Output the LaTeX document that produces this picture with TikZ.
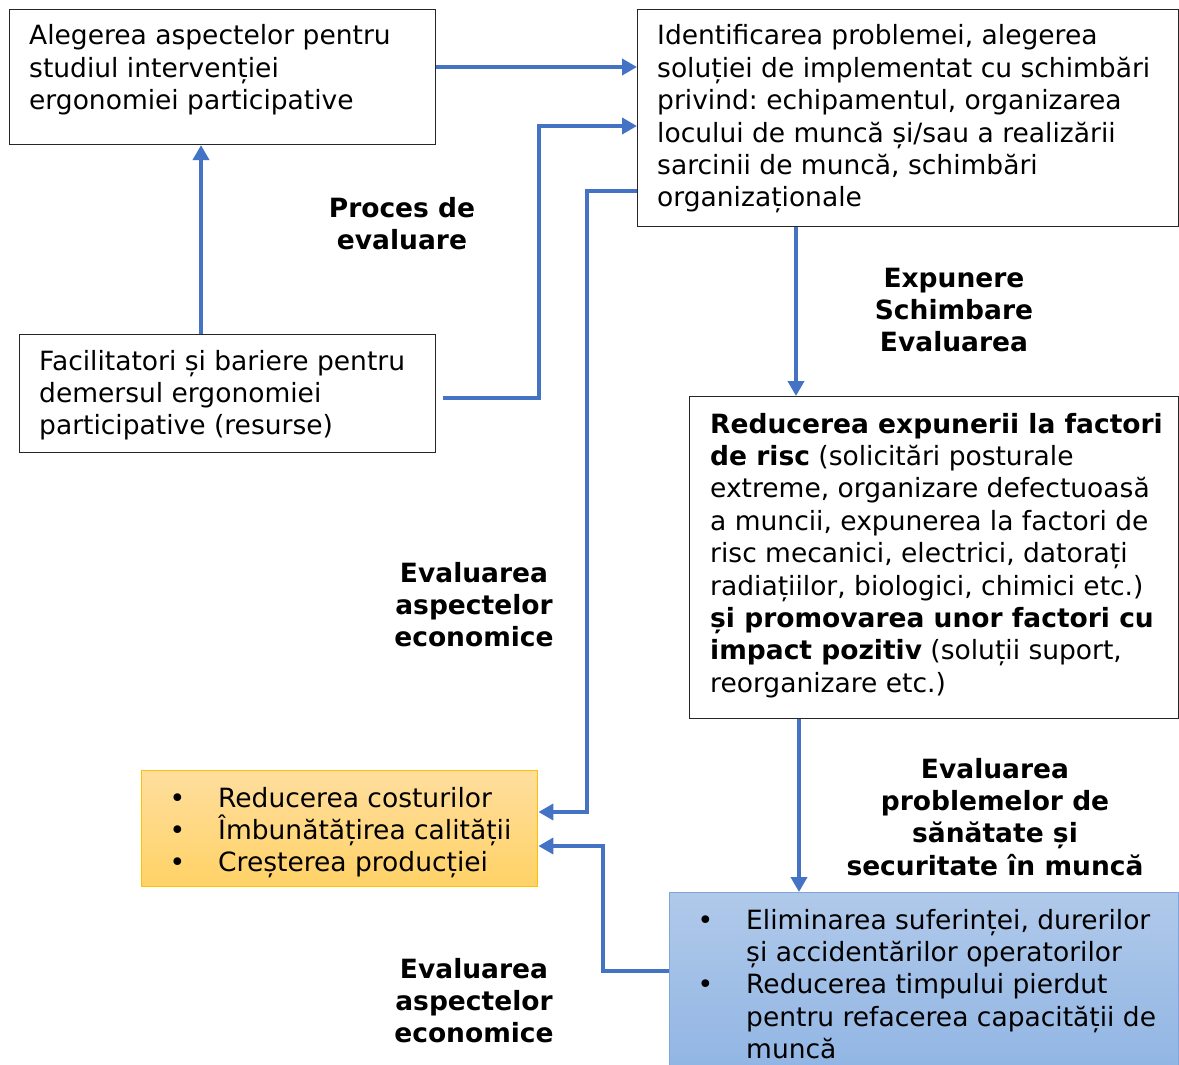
\documentclass[tikz,border=0pt]{standalone}
\usepackage{fontspec}
\setmainfont{DejaVu Sans}
\frenchspacing
\usetikzlibrary{arrows.meta}
\definecolor{linkblue}{HTML}{4472C4}
\definecolor{orangetop}{HTML}{FFDE9E}
\definecolor{orangebot}{HTML}{FFD266}
\definecolor{orangeedge}{HTML}{FFC000}
\definecolor{bluetop}{HTML}{B0C9EA}
\definecolor{bluebot}{HTML}{8FB4E3}
\definecolor{blueedge}{HTML}{7FA5DA}
% bullet hung to the left of the item text
\newcommand\itm{\makebox[0pt][r]{\textbullet\hspace{33pt}}}
\begin{document}
\begin{tikzpicture}[x=1pt,y=-1pt,
  box/.style={draw=black!85, line width=1.1pt, rectangle, inner sep=0pt, anchor=north west},
  txt/.style={inner sep=0pt, anchor=base west, font=\fontsize{26.5}{32.4}\selectfont},
  lbl/.style={inner sep=0pt, anchor=base, font=\fontsize{26.5}{32.4}\selectfont\bfseries},
  arr/.style={draw=linkblue, line width=3.8pt, -{Triangle[length=15pt,width=16pt]}},
]
\useasboundingbox (0,0) rectangle (1179,1065);
\fill[white] (0,0) rectangle (1179,1065);
\clip (0,0) rectangle (1179,1065);

% boxes
\node[box, minimum width=426pt, minimum height=135pt] (A) at (9,9) {};
\node[box, minimum width=541pt, minimum height=217pt] (B) at (637,9) {};
\node[box, minimum width=416pt, minimum height=118pt] (C) at (19,334) {};
\node[box, minimum width=489pt, minimum height=322pt] (D) at (689,396) {};
\node[box, draw=orangeedge, line width=1.4pt, top color=orangetop, bottom color=orangebot,
      minimum width=396pt, minimum height=116pt] (E) at (141,770) {};
\node[box, draw=blueedge, line width=1.4pt, top color=bluetop, bottom color=bluebot,
      minimum width=509pt, minimum height=190pt] (F) at (669,892) {};

% box texts
\node[txt] (At) at (29,45) {\parbox[t]{600pt}{Alegerea aspectelor pentru\\
studiul intervenției\\ ergonomiei participative}};
\node[txt] (Bt) at (657,45) {\parbox[t]{600pt}{Identificarea problemei, alegerea\\
soluției de implementat cu schimbări\\ privind: echipamentul, organizarea\\
locului de muncă și/sau a realizării\\ sarcinii de muncă, schimbări\\ organizaționale}};
\node[txt] (Ct) at (39,370) {\parbox[t]{600pt}{Facilitatori și bariere pentru\\
demersul ergonomiei\\ participative (resurse)}};
\node[txt] (Dt) at (710,433) {\parbox[t]{600pt}{\textbf{Reducerea expunerii la factori}\\
\textbf{de risc} (solicitări posturale\\ extreme, organizare defectuoasă\\
a muncii, expunerea la factori de\\ risc mecanici, electrici, datorați\\
radiațiilor, biologici, chimici etc.)\\ \textbf{și promovarea unor factori cu}\\
\textbf{impact pozitiv} (soluții suport,\\ reorganizare etc.)}};
\node[txt] (Et) at (218,807) {\parbox[t]{600pt}{\itm Reducerea costurilor\\
\itm Îmbunătățirea calității\\ \itm Creșterea producției}};
\node[txt] (Ft) at (746,929) {\parbox[t]{600pt}{\itm Eliminarea suferinței, durerilor\\
și accidentărilor operatorilor\\ \itm Reducerea timpului pierdut\\
pentru refacerea capacității de\\ muncă}};

% connector labels
\node[lbl] (L1) at (402,217) {\parbox[t]{400pt}{\centering Proces de\\ evaluare}};
\node[lbl] (L2) at (954,287) {\parbox[t]{400pt}{\centering Expunere\\ Schimbare\\ Evaluarea}};
\node[lbl] (L3) at (474,582) {\parbox[t]{400pt}{\centering Evaluarea\\ aspectelor\\ economice}};
\node[lbl] (L4) at (995,778) {\parbox[t]{400pt}{\centering Evaluarea\\ problemelor de\\ sănătate și\\ securitate în muncă}};
\node[lbl] (L5) at (474,978) {\parbox[t]{400pt}{\centering Evaluarea\\ aspectelor\\ economice}};

% connectors
\draw[arr] (A.east |- 0,67) -- (B.west |- 0,67);
\draw[arr, shorten <=7pt] (C.east |- 0,398) -- (539,398) -- (539,126) -- (B.west |- 0,126);
\draw[arr] (201,0 |- C.north) -- (201,0 |- A.south);
\draw[arr] (B.west |- 0,191) -- (587,191) -- (587,812) -- (E.east |- 0,812);
\draw[arr] (796,0 |- B.south) -- (796,0 |- D.north);
\draw[arr] (799,0 |- D.south) -- (799,0 |- F.north);
\draw[arr] (F.west |- 0,971) -- (603,971) -- (603,846) -- (E.east |- 0,846);
\end{tikzpicture}
\end{document}
